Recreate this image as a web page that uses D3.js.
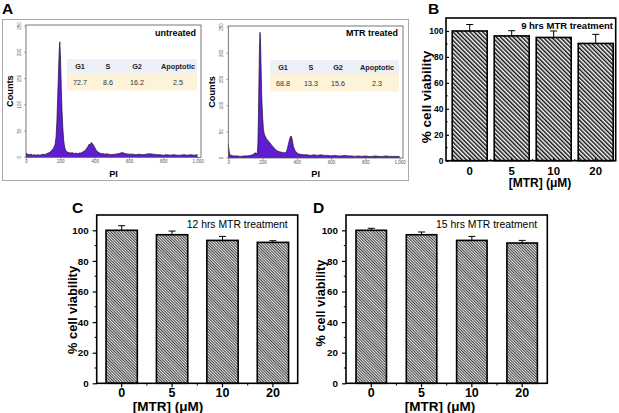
<!DOCTYPE html>
<html>
<head>
<meta charset="utf-8">
<script src="https://cdn.jsdelivr.net/npm/d3@7"></script>
<style>
  html, body { margin: 0; padding: 0; background: #fff; }
  svg { display: block; font-family: "Liberation Sans", Arial, sans-serif; }
</style>
</head>
<body>
<div id="fig"></div>
<script>
/* Cell cycle histograms (A) + MTR viability bars (B, C, D) */
(function () {
  "use strict";

  /* ---- Panel A data: PI histogram [PI, counts] ---- */
  var untreatedHist = [
    [0, 8], [10, 6], [20, 5], [30, 6], [40, 4], [50, 5], [60, 4], [70, 5], [80, 4], [90, 5],
    [100, 6], [110, 5], [120, 7], [130, 8], [140, 10], [150, 13], [160, 17], [165, 21], [170, 25],
    [175, 38], [180, 68], [185, 118], [190, 168], [194, 205], [197, 220], [200, 198], [203, 168],
    [206, 128], [210, 88], [215, 54], [220, 31], [225, 20], [230, 14], [240, 10], [250, 9],
    [260, 8], [270, 9], [280, 7], [290, 8], [300, 7], [310, 8], [320, 8], [330, 10], [340, 12],
    [350, 15], [360, 20], [368, 25], [374, 23], [380, 28], [385, 27], [390, 25], [395, 22],
    [400, 19], [410, 13], [420, 10], [430, 8], [440, 7], [450, 7], [460, 6], [470, 7], [480, 6],
    [500, 5], [520, 6], [540, 7], [560, 9], [570, 8], [580, 7], [600, 6], [620, 6], [640, 5],
    [660, 6], [680, 5], [700, 6], [720, 7], [740, 6], [760, 5], [780, 5], [800, 4], [820, 5],
    [840, 4], [860, 5], [880, 4], [900, 4], [920, 5], [940, 4], [960, 5], [980, 4], [1000, 5]
  ];
  var treatedHist = [
    [0, 26], [4, 15], [8, 8], [15, 5], [30, 4], [50, 4], [70, 3], [90, 4], [110, 4], [130, 5],
    [140, 6], [150, 8], [160, 10], [165, 8], [170, 11], [173, 30], [176, 80], [179, 150],
    [182, 210], [185, 240], [188, 225], [191, 180], [195, 120], [200, 80], [205, 55], [210, 46],
    [215, 42], [220, 38], [230, 34], [240, 30], [250, 26], [260, 22], [270, 18], [280, 15],
    [290, 13], [300, 12], [310, 11], [320, 10], [330, 10], [340, 12], [345, 18], [350, 25],
    [355, 32], [360, 38], [365, 42], [370, 40], [375, 32], [380, 22], [390, 14], [400, 10],
    [410, 8], [420, 7], [440, 6], [460, 6], [480, 5], [500, 6], [520, 5], [540, 6], [560, 5],
    [580, 5], [600, 4], [620, 5], [640, 4], [660, 4], [680, 5], [700, 4], [720, 4], [740, 3],
    [760, 4], [780, 3], [800, 4], [820, 3], [840, 3], [860, 4], [880, 3], [900, 3], [920, 4],
    [940, 3], [960, 3], [980, 3], [1000, 3]
  ];
  var phases = ["G1", "S", "G2", "Apoptotic"];
  var untreatedPct = ["72.7", "8.6", "16.2", "2.5"];
  var treatedPct = ["68.8", "13.3", "15.6", "2.3"];
  var histXTicks = [0, 200, 400, 600, 800, 1000];
  var histYTicks = [0, 50, 100, 150, 200, 250];

  /* ---- Panels B-D data: viability ---- */
  var doses = ["0", "5", "10", "20"];
  var via9h = [100, 96.2, 95, 90.4];
  var err9h = [5, 4, 5, 7];
  var via12h = [100, 97.1, 93.4, 92.1];
  var err12h = [3, 2.4, 2.6, 1.1];
  var via15h = [100, 97.1, 93.4, 91.7];
  var err15h = [1.3, 1.8, 2.6, 1.7];
  var viaTicks = [0, 20, 40, 60, 80, 100];

  var W = 619, H = 413;
  var svg = d3.select("#fig").append("svg").attr("width", W).attr("height", H);
  svg.append("rect").attr("width", W).attr("height", H).attr("fill", "#fff");

  var defs = svg.append("defs");
  // B: coarse black/white diagonal hatch
  var pb = defs.append("pattern").attr("id", "hatchB").attr("patternUnits", "userSpaceOnUse")
    .attr("width", 3).attr("height", 3).attr("patternTransform", "rotate(-45)");
  pb.append("rect").attr("width", 3).attr("height", 3).attr("fill", "#fff");
  pb.append("rect").attr("width", 1.5).attr("height", 3).attr("fill", "#111");
  // C, D: finer gray hatch
  var pc = defs.append("pattern").attr("id", "hatchC").attr("patternUnits", "userSpaceOnUse")
    .attr("width", 2).attr("height", 2).attr("patternTransform", "rotate(-45)");
  pc.append("rect").attr("width", 2).attr("height", 2).attr("fill", "#e2e2e2");
  pc.append("rect").attr("width", 0.95).attr("height", 2).attr("fill", "#404040");

  function letter(x, y, t) {
    svg.append("text").attr("x", x).attr("y", y).attr("font-size", 15.5)
      .attr("font-weight", "bold").attr("fill", "#000").text(t);
  }

  /* ---- Histogram panel ---- */
  function drawHist(o) {
    var x = d3.scaleLinear().domain([0, 1020]).range([o.x0, o.x1]);
    var y = d3.scaleLinear().domain([0, 252]).range([o.y0, o.y1]);
    var g = svg.append("g");

    // table
    var tx = o.cols;
    g.append("rect").attr("x", o.tab[0]).attr("y", o.tab[1]).attr("width", o.tab[2] - o.tab[0])
      .attr("height", 14).attr("fill", "#edf0f6");
    g.append("rect").attr("x", o.tab[0]).attr("y", o.tab[1] + 14).attr("width", o.tab[2] - o.tab[0])
      .attr("height", 17.5).attr("fill", "#fcf3d8");
    phases.forEach(function (p, i) {
      g.append("text").attr("x", tx[i]).attr("y", o.tab[1] + 9.5).attr("text-anchor", "middle")
        .attr("font-size", 7.3).attr("font-weight", "bold").attr("fill", "#222").text(p);
      g.append("text").attr("x", tx[i]).attr("y", o.tab[1] + 25.5).attr("text-anchor", "middle")
        .attr("font-size", 7.2).attr("fill", "#333").text(o.pct[i]);
    });

    var area = d3.area().x(function (d) { return x(d[0]); })
      .y0(y(0)).y1(function (d) { return y(d[1]); });
    var line = d3.line().x(function (d) { return x(d[0]); }).y(function (d) { return y(d[1]); });
    g.append("path").datum(o.data).attr("fill", "#5e1dcf").attr("d", area);
    g.append("path").datum(o.data).attr("fill", "none").attr("stroke", "#1a1030")
      .attr("stroke-width", 0.7).attr("d", line);

    g.append("rect").attr("x", o.x0).attr("y", o.y1).attr("width", o.x1 - o.x0)
      .attr("height", o.y0 - o.y1).attr("fill", "none").attr("stroke", "#555").attr("stroke-width", 0.8);

    var ax = g.append("g").attr("transform", "translate(0," + o.y0 + ")")
      .call(d3.axisBottom(x).tickValues(histXTicks).tickSize(2).tickPadding(1));
    ax.select(".domain").remove();
    ax.selectAll("text").attr("font-size", 4.5).attr("fill", "#555").attr("font-family", "Liberation Sans, Arial");
    ax.selectAll("line").attr("stroke", "#555").attr("stroke-width", 0.5);

    var ay = g.append("g").attr("transform", "translate(" + o.x0 + ",0)")
      .call(d3.axisLeft(y).tickValues(histYTicks).tickSize(2).tickPadding(1));
    ay.select(".domain").remove();
    ay.selectAll("line").attr("stroke", "#555").attr("stroke-width", 0.5);
    ay.selectAll(".tick").attr("transform", null);
    ay.selectAll(".tick line").attr("y1", function (d) { return y(d); }).attr("y2", function (d) { return y(d); });
    ay.selectAll("text").attr("font-size", 4.5).attr("fill", "#555").attr("font-family", "Liberation Sans, Arial")
      .attr("text-anchor", "middle").attr("x", -5).attr("dy", 0)
      .attr("y", function (d) { return y(d); })
      .attr("transform", function (d) { return "rotate(-90," + (-5) + "," + y(d) + ")"; });

    g.append("text").attr("transform", "translate(" + o.cx + "," + ((o.y0 + o.y1) / 2) + ") rotate(-90)")
      .attr("text-anchor", "middle").attr("font-size", 9.2).attr("font-weight", "bold").text("Counts");
    g.append("text").attr("x", (o.x0 + o.x1) / 2).attr("y", 176.5).attr("text-anchor", "middle")
      .attr("font-size", 9.2).attr("font-weight", "bold").text("PI");
    g.append("text").attr("x", o.x1 - 5).attr("y", 36).attr("text-anchor", "end")
      .attr("font-size", 9).attr("font-weight", "bold").text(o.title);
  }

  /* ---- Bar panel ---- */
  function drawBars(o) {
    var x = d3.scaleBand().domain(doses).range([o.bx0, o.bx1])
      .paddingInner(o.pin).paddingOuter(o.pout);
    var y = d3.scaleLinear().domain([0, 110]).range([o.y0, o.y1]);
    var g = svg.append("g");
    var bw = x.bandwidth();

    g.selectAll("rect.bar").data(o.vals).enter().append("rect").attr("class", "bar")
      .attr("x", function (d, i) { return x(doses[i]); })
      .attr("y", function (d) { return y(d); })
      .attr("width", bw)
      .attr("height", function (d) { return y(0) - y(d); })
      .attr("fill", "url(#" + o.pat + ")").attr("stroke", "#000").attr("stroke-width", 1.6);

    o.vals.forEach(function (v, i) {
      var cx = x(doses[i]) + bw / 2;
      var top = y(v + o.errs[i]);
      g.append("line").attr("x1", cx).attr("x2", cx).attr("y1", y(v)).attr("y2", top)
        .attr("stroke", "#000").attr("stroke-width", 1);
      g.append("line").attr("x1", cx - 3.5).attr("x2", cx + 3.5).attr("y1", top).attr("y2", top)
        .attr("stroke", "#000").attr("stroke-width", 1);
    });

    g.append("rect").attr("x", o.fx0).attr("y", o.y1).attr("width", o.fx1 - o.fx0)
      .attr("height", o.y0 - o.y1).attr("fill", "none").attr("stroke", "#000").attr("stroke-width", 1.6);

    // y axis: major labelled ticks, minor between
    var ay = g.append("g").attr("transform", "translate(" + o.fx0 + ",0)")
      .call(d3.axisLeft(y).tickValues(viaTicks).tickSize(o.tick).tickPadding(o.ypad));
    ay.select(".domain").remove();
    ay.selectAll("line").attr("stroke", "#000").attr("stroke-width", 1.2);
    ay.selectAll("text").attr("font-size", o.yfs).attr("font-weight", "bold").attr("fill", "#000")
      .attr("font-family", "Liberation Sans, Arial");
    var minor = [10, 30, 50, 70, 90];
    g.selectAll("line.ym").data(minor).enter().append("line")
      .attr("x1", o.fx0).attr("x2", o.fx0 - o.tick * 0.55)
      .attr("y1", function (d) { return y(d); }).attr("y2", function (d) { return y(d); })
      .attr("stroke", "#000").attr("stroke-width", 1);

    var ax = g.append("g").attr("transform", "translate(0," + o.y0 + ")")
      .call(d3.axisBottom(x).tickSize(o.tick).tickPadding(o.xpad));
    ax.select(".domain").remove();
    ax.selectAll("line").attr("stroke", "#000").attr("stroke-width", 1.2);
    ax.selectAll("text").attr("font-size", o.xfs).attr("font-weight", "bold").attr("fill", "#000")
      .attr("font-family", "Liberation Sans, Arial");
    var mids = doses.slice(1).map(function (d, i) {
      return (x(doses[i]) + x(d) + bw) / 2;
    });
    g.selectAll("line.xm").data(mids).enter().append("line")
      .attr("x1", function (d) { return d; }).attr("x2", function (d) { return d; })
      .attr("y1", o.y0).attr("y2", o.y0 + o.tick * 0.55)
      .attr("stroke", "#000").attr("stroke-width", 1);

    g.append("text").attr("transform", "translate(" + o.ylx + "," + o.yly + ") rotate(-90)")
      .attr("text-anchor", "middle").attr("font-size", o.ylfs).attr("font-weight", "bold")
      .text("% cell viability");
    g.append("text").attr("x", o.xlx).attr("y", o.xly).attr("text-anchor", "middle")
      .attr("font-size", o.xlfs).attr("font-weight", "bold").text("[MTR] (\u03bcM)");
    g.append("text").attr("x", o.tx).attr("y", o.ty).attr("text-anchor", o.tanchor)
      .attr("font-size", o.tfs).attr("font-weight", o.tweight).text(o.title);
  }

  // Panel A
  svg.append("rect").attr("x", 2.5).attr("y", 19.5).attr("width", 406).attr("height", 161)
    .attr("fill", "none").attr("stroke", "#aaa").attr("stroke-width", 1);
  letter(2, 14, "A");
  drawHist({ data: untreatedHist, pct: untreatedPct, title: "untreated",
    x0: 26, x1: 201, y0: 157.3, y1: 25, cx: 12.5,
    tab: [67, 59, 197], cols: [80, 108, 137, 178] });
  drawHist({ data: treatedHist, pct: treatedPct, title: "MTR treated",
    x0: 228.3, x1: 403, y0: 158, y1: 26, cx: 215,
    tab: [270, 60, 399], cols: [283, 311, 338, 377] });

  // Panel B
  letter(428, 14, "B");
  drawBars({ vals: via9h, errs: err9h, pat: "hatchB",
    bx0: 446, bx1: 619.4, pin: 0.167, pout: 0.148, fx0: 446, fx1: 615.7, y0: 160.7, y1: 18,
    tick: -3, ypad: 2.5, xpad: 6, yfs: 8.5, xfs: 11.4,
    ylx: 430.5, yly: 97, ylfs: 13.5, xlx: 540, xly: 186.5, xlfs: 12,
    tx: 613, ty: 28.5, tanchor: "end", tfs: 9.5, tweight: "bold", title: "9 hrs MTR treatment" });

  // Panel C
  letter(72, 213, "C");
  drawBars({ vals: via12h, errs: err12h, pat: "hatchC",
    bx0: 96.7, bx1: 297.9, pin: 0.379, pout: 0.185, fx0: 96.7, fx1: 297.7, y0: 383.3, y1: 215,
    tick: 4, ypad: 4, xpad: 0.5, yfs: 9.8, xfs: 12.5,
    ylx: 76.5, yly: 310, ylfs: 12.9, xlx: 168, xly: 411, xlfs: 13.5,
    tx: 186.7, ty: 228, tanchor: "start", tfs: 10.4, tweight: "normal", title: "12 hrs MTR treatment" });

  // Panel D
  letter(313, 213, "D");
  drawBars({ vals: via15h, errs: err15h, pat: "hatchC",
    bx0: 346, bx1: 547.4, pin: 0.394, pout: 0.199, fx0: 346, fx1: 547.3, y0: 383.3, y1: 215,
    tick: 4, ypad: 4, xpad: 0.5, yfs: 9.8, xfs: 12.5,
    ylx: 324.5, yly: 303, ylfs: 12.7, xlx: 440, xly: 411, xlfs: 13.5,
    tx: 436, ty: 228, tanchor: "start", tfs: 10.4, tweight: "normal", title: "15 hrs MTR treatment" });
})();
</script>
</body>
</html>
